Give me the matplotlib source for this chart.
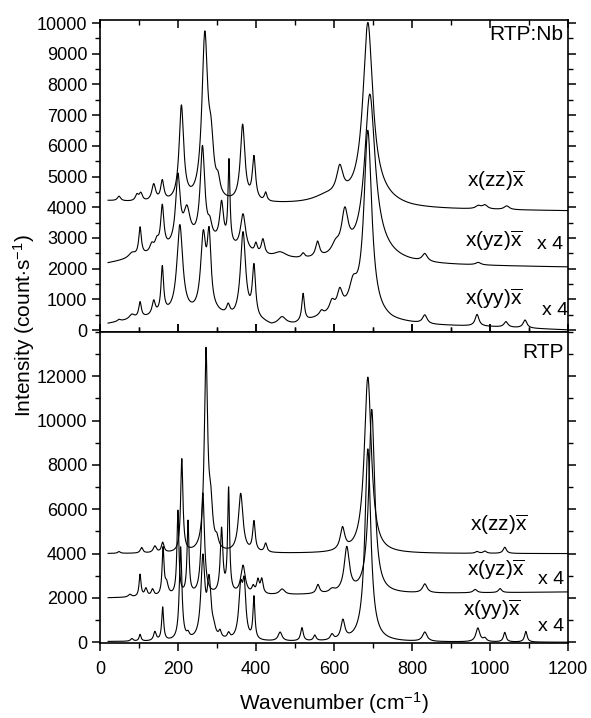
import numpy as np
import matplotlib
matplotlib.use('Agg')
import matplotlib.pyplot as plt
from matplotlib.ticker import MultipleLocator

plt.rcParams['font.family'] = ['Liberation Sans', 'DejaVu Sans']
plt.rcParams['mathtext.fontset'] = 'custom'
plt.rcParams['mathtext.rm'] = 'Liberation Sans'
plt.rcParams['mathtext.it'] = 'Liberation Sans:italic'

# Raman bands: centre (cm-1), height (counts/s), half width (cm-1)
# RTP:Nb, x(zz)x
nb_zz_pos = [49, 95, 105, 138, 160, 209, 269, 285, 303, 366, 395, 425, 580, 615, 687, 700, 970, 987, 1043]
nb_zz_amp = [150, 200, 250, 550, 650, 3100, 5300, 1500, 450, 2500, 1400, 280, 200, 900, 5600, 400, 100, 130, 120]
nb_zz_hw = [5, 5, 5, 6, 5, 7, 9, 8, 6, 7, 5, 4, 40, 10, 15, 50, 8, 8, 8]
nb_zz_bx = [20, 150, 250, 450, 600, 800, 1200]
nb_zz_by = [4200, 4100, 4050, 4080, 4050, 3930, 3880]

# RTP:Nb, x(yz)x  (x 4)
nb_yz_pos = [82, 103, 133, 146, 160, 200, 223, 260, 263, 282, 312, 331, 367, 400, 418, 462, 521, 558, 604, 628, 692, 700, 833, 970]
nb_yz_amp = [150, 900, 250, 300, 1400, 2200, 1000, 600, 3000, 400, 1300, 2700, 1200, 300, 500, 200, 150, 500, 300, 1300, 5000, 500, 250, 80]
nb_yz_hw = [10, 4, 6, 6, 5, 7, 10, 100, 7, 6, 6, 3, 8, 4, 5, 20, 5, 6, 12, 10, 16, 50, 8, 8]
nb_yz_bx = [20, 100, 300, 450, 600, 800, 1200]
nb_yz_by = [2080, 2200, 2250, 2150, 2150, 2100, 2040]

# RTP:Nb, x(yy)x  (x 4)
nb_yy_pos = [49, 82, 103, 138, 160, 205, 265, 280, 329, 367, 395, 467, 521, 568, 595, 615, 649, 687, 833, 967, 1041, 1090]
nb_yy_amp = [60, 150, 500, 450, 1500, 2900, 2400, 2300, 300, 2800, 1650, 250, 900, 150, 350, 600, 700, 6000, 280, 380, 180, 260]
nb_yy_hw = [5, 8, 4, 5, 4, 9, 8, 6, 5, 8, 5, 12, 4, 6, 8, 8, 12, 12, 7, 6, 6, 6]
nb_yy_bx = [20, 100, 170, 230, 300, 345, 380, 420, 440, 500, 560, 620, 660, 750, 850, 1000, 1200]
nb_yy_by = [200, 350, 450, 450, 450, 300, 300, 200, 100, 150, 350, 500, 500, 250, 150, 100, 0]

# RTP, x(zz)x
rtp_zz_pos = [49, 107, 141, 161, 210, 272, 284, 300, 361, 395, 425, 622, 687, 967, 987, 1038]
rtp_zz_amp = [80, 250, 300, 450, 4200, 8900, 1800, 400, 2650, 1350, 400, 1000, 7950, 80, 100, 280]
rtp_zz_hw = [4, 4, 5, 4, 3.5, 5, 6, 5, 7, 4, 4, 7, 11, 5, 5, 5]
rtp_zz_bx = [20, 600, 1200]
rtp_zz_by = [4000, 4000, 4000]

# RTP, x(yz)x  (x 4)
rtp_yz_pos = [77, 103, 118, 135, 162, 171, 200, 226, 264, 312, 330, 367, 393, 405, 415, 467, 559, 595, 633, 697, 833, 962, 1026]
rtp_yz_amp = [120, 1000, 350, 300, 2100, 500, 3800, 3300, 4600, 2900, 4700, 1300, 300, 600, 650, 250, 400, 150, 2000, 8300, 400, 150, 180]
rtp_yz_hw = [5, 3, 4, 4, 3, 5, 3, 3, 5, 4, 3, 7, 4, 4, 4, 8, 5, 8, 8, 9, 7, 6, 5]
rtp_yz_bx = [20, 300, 600, 1200]
rtp_yz_by = [2000, 2080, 2150, 2270]

# RTP, x(yy)x  (x 4)
rtp_yy_pos = [82, 103, 141, 161, 207, 226, 264, 280, 292, 308, 330, 361, 370, 395, 462, 518, 551, 595, 623, 687, 833, 969, 987, 1038, 1092]
rtp_yy_amp = [120, 300, 400, 1500, 4200, 200, 3600, 2500, 300, 300, 250, 2200, 2200, 1900, 400, 600, 250, 250, 850, 8700, 420, 620, 150, 430, 480]
rtp_yy_hw = [4, 3, 4, 3, 4, 4, 6, 6, 5, 4, 4, 6, 5, 3, 6, 4, 4, 5, 6, 9, 7, 6, 5, 4, 4]
rtp_yy_bx = [20, 1200]
rtp_yy_by = [30, 0]

wn = np.arange(21, 1200.25, 0.25)


def spectrum(pos, amp, hw, bx, by):
    y = np.interp(wn, bx, by)
    for p, a, w in zip(pos, amp, hw):
        y = y + a * w ** 2 / ((wn - p) ** 2 + w ** 2)
    return y


fig = plt.figure(figsize=(5.91, 7.18), dpi=100)
ax1 = fig.add_axes([0.169, 0.5376, 0.792, 0.4345])
ax2 = fig.add_axes([0.169, 0.1045, 0.792, 0.4331], sharex=ax1)

lw = 0.8
ax1.plot(wn, spectrum(nb_zz_pos, nb_zz_amp, nb_zz_hw, nb_zz_bx, nb_zz_by), color='k', lw=lw)
ax1.plot(wn, spectrum(nb_yz_pos, nb_yz_amp, nb_yz_hw, nb_yz_bx, nb_yz_by), color='k', lw=lw)
ax1.plot(wn, spectrum(nb_yy_pos, nb_yy_amp, nb_yy_hw, nb_yy_bx, nb_yy_by), color='k', lw=lw)
ax2.plot(wn, spectrum(rtp_zz_pos, rtp_zz_amp, rtp_zz_hw, rtp_zz_bx, rtp_zz_by), color='k', lw=lw)
ax2.plot(wn, spectrum(rtp_yz_pos, rtp_yz_amp, rtp_yz_hw, rtp_yz_bx, rtp_yz_by), color='k', lw=lw)
ax2.plot(wn, spectrum(rtp_yy_pos, rtp_yy_amp, rtp_yy_hw, rtp_yy_bx, rtp_yy_by), color='k', lw=lw)

ax1.set_xlim(0, 1200)
ax1.set_ylim(-65, 10100)
ax2.set_ylim(-30, 14000)

ax1.set_yticks(np.arange(0, 10001, 1000))
ax1.yaxis.set_minor_locator(MultipleLocator(500))
ax2.set_yticks(np.arange(0, 12001, 2000))
ax2.yaxis.set_minor_locator(MultipleLocator(1000))
ax2.set_xticks(np.arange(0, 1201, 200))
ax2.xaxis.set_minor_locator(MultipleLocator(100))

for ax in (ax1, ax2):
    for s in ax.spines.values():
        s.set_linewidth(1.2)
    ax.tick_params(axis='y', which='both', direction='out', left=True, right=True, labelsize=13, pad=3)
    ax.tick_params(axis='y', which='major', length=6, width=1.1)
    ax.tick_params(axis='y', which='minor', length=3.5, width=1)
    ax.tick_params(axis='x', which='both', top=True, bottom=True, labelsize=13)
    ax.tick_params(axis='x', which='major', length=6, width=1.1)
    ax.tick_params(axis='x', which='minor', length=3.5, width=1)
ax1.tick_params(axis='x', which='both', direction='in', labelbottom=False)
ax2.tick_params(axis='x', which='both', direction='out', pad=7)

ax1.text(0.99, 0.985, 'RTP:Nb', transform=ax1.transAxes, ha='right', va='top', fontsize=15)
ax2.text(0.99, 0.965, 'RTP', transform=ax2.transAxes, ha='right', va='top', fontsize=15)

fs = 15
ax1.text(941, 4850, r'x(zz)$\overline{\mathrm{x}}$', fontsize=fs, va='center')
ax1.text(936, 2900, r'x(yz)$\overline{\mathrm{x}}$', fontsize=fs, va='center')
ax1.text(1120, 2770, 'x 4', fontsize=14, va='center')
ax1.text(936, 1010, r'x(yy)$\overline{\mathrm{x}}$', fontsize=fs, va='center')
ax1.text(1133, 650, 'x 4', fontsize=14, va='center')

ax2.text(949, 5280, r'x(zz)$\overline{\mathrm{x}}$', fontsize=fs, va='center')
ax2.text(941, 3250, r'x(yz)$\overline{\mathrm{x}}$', fontsize=fs, va='center')
ax2.text(1123, 2850, 'x 4', fontsize=14, va='center')
ax2.text(931, 1450, r'x(yy)$\overline{\mathrm{x}}$', fontsize=fs, va='center')
ax2.text(1123, 730, 'x 4', fontsize=14, va='center')

ax2.set_xlabel(r'Wavenumber (cm$^{-1}$)', fontsize=15, labelpad=9)
fig.text(0.040, 0.546, r'Intensity (count$\cdot$s$^{-1}$)', rotation=90, fontsize=15,
         ha='center', va='center')

fig.savefig('out.png', dpi=100)
